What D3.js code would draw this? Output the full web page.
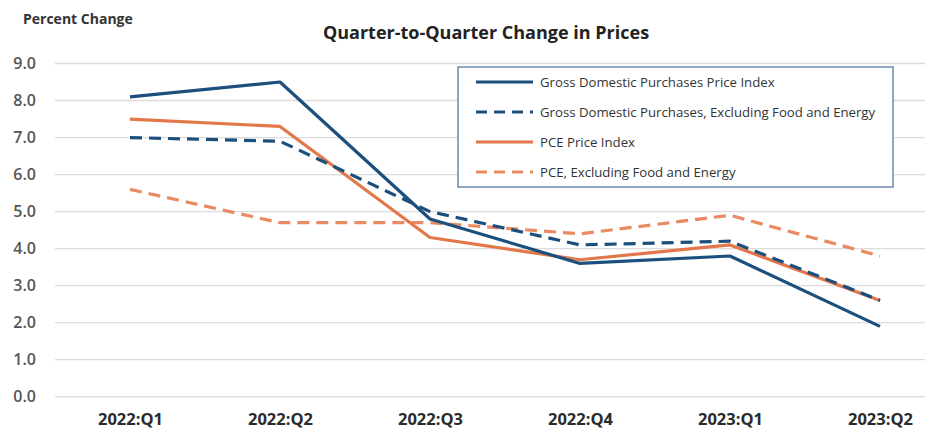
<!DOCTYPE html>
<html>
<head>
<meta charset="utf-8">
<script src="https://cdn.jsdelivr.net/npm/d3@7"></script>
<style>
  html, body { margin: 0; padding: 0; background: #fff; }
  svg { display: block; }
</style>
</head>
<body>
<svg id="chart" width="929" height="432"></svg>
<script>
// Quarterly labels along the x axis
const quarters = ["2022:Q1", "2022:Q2", "2022:Q3", "2022:Q4", "2023:Q1", "2023:Q2"];

// Percent change, annual rate
const grossPurchases      = [8.1, 8.5, 4.8, 3.6, 3.8, 1.9];
const grossPurchasesCore  = [7.0, 6.9, 5.0, 4.1, 4.2, 2.6];
const pce                 = [7.5, 7.3, 4.3, 3.7, 4.1, 2.6];
const pceCore             = [5.6, 4.7, 4.7, 4.4, 4.9, 3.8];

const seriesNames = [
  "Gross Domestic Purchases Price Index",
  "Gross Domestic Purchases, Excluding Food and Energy",
  "PCE Price Index",
  "PCE, Excluding Food and Energy"
];

const yTicks = [0, 1, 2, 3, 4, 5, 6, 7, 8, 9];

const blue = "#1c4f7c";
const orange = "#e2784a";
const orangeLight = "#e98a62";

const series = [
  { name: seriesNames[0], values: grossPurchases,     color: blue,        dash: null },
  { name: seriesNames[1], values: grossPurchasesCore, color: blue,        dash: "12,7" },
  { name: seriesNames[2], values: pce,                color: orange,      dash: null },
  { name: seriesNames[3], values: pceCore,            color: orangeLight, dash: "12,7" }
];

const svg = d3.select("#chart");
const font = "'Open Sans', 'Liberation Sans', sans-serif";

const x = d3.scalePoint().domain(quarters).range([130, 880]);
const y = d3.scaleLinear().domain([0, 9]).range([396.7, 63.5]);

// Horizontal gridlines
svg.append("g")
  .selectAll("line")
  .data(yTicks)
  .join("line")
  .attr("x1", 55).attr("x2", 925)
  .attr("y1", d => y(d)).attr("y2", d => y(d))
  .attr("stroke", "#dcdcdc")
  .attr("stroke-width", 1.3);

// Y axis labels
const yAxis = svg.append("g")
  .attr("transform", "translate(36,0)")
  .call(d3.axisLeft(y).tickValues(yTicks).tickFormat(d3.format(".1f")).tickSize(0).tickPadding(0));
yAxis.select(".domain").remove();
yAxis.selectAll("text")
  .attr("font-family", font)
  .attr("font-size", 16)
  .attr("font-weight", 600)
  .attr("fill", "#555")
  .attr("text-anchor", "end");

// X axis labels
const xAxis = svg.append("g")
  .attr("transform", "translate(0,413)")
  .call(d3.axisBottom(x).tickSize(0).tickPadding(0));
xAxis.select(".domain").remove();
xAxis.selectAll("text")
  .attr("font-family", font)
  .attr("font-size", 16.5)
  .attr("font-weight", 700)
  .attr("fill", "#2b2b2b");

// Series lines
const line = d3.line()
  .x((d, i) => x(quarters[i]))
  .y(d => y(d));

svg.append("g")
  .selectAll("path")
  .data(series.slice().reverse())
  .join("path")
  .attr("d", d => line(d.values))
  .attr("fill", "none")
  .attr("stroke", d => d.color)
  .attr("stroke-width", 3.2)
  .attr("stroke-linejoin", "round")
  .attr("stroke-dasharray", d => d.dash);

// Titles
svg.append("text")
  .attr("x", 23).attr("y", 24)
  .attr("font-family", font)
  .attr("font-size", 14)
  .attr("font-weight", 700)
  .attr("fill", "#333")
  .text("Percent Change");

svg.append("text")
  .attr("x", 486).attr("y", 39)
  .attr("text-anchor", "middle")
  .attr("font-family", font)
  .attr("font-size", 18)
  .attr("font-weight", 700)
  .attr("fill", "#222")
  .text("Quarter-to-Quarter Change in Prices");

// Legend
const legend = svg.append("g");
legend.append("rect")
  .attr("x", 458).attr("y", 67)
  .attr("width", 435).attr("height", 120)
  .attr("fill", "#fff")
  .attr("stroke", "#6d8aa8")
  .attr("stroke-width", 1.5);

const rows = legend.selectAll("g.row")
  .data(series)
  .join("g")
  .attr("class", "row")
  .attr("transform", (d, i) => `translate(0,${82 + i * 30})`);

rows.append("line")
  .attr("x1", 476).attr("x2", 533)
  .attr("y1", 0).attr("y2", 0)
  .attr("stroke", d => d.color)
  .attr("stroke-width", 3.2)
  .attr("stroke-dasharray", d => d.dash ? "11,7" : null);

rows.append("text")
  .attr("x", 540).attr("y", 0)
  .attr("dy", "0.35em")
  .attr("font-family", font)
  .attr("font-size", 13.2)
  .attr("fill", "#333")
  .text(d => d.name);
</script>
</body>
</html>
